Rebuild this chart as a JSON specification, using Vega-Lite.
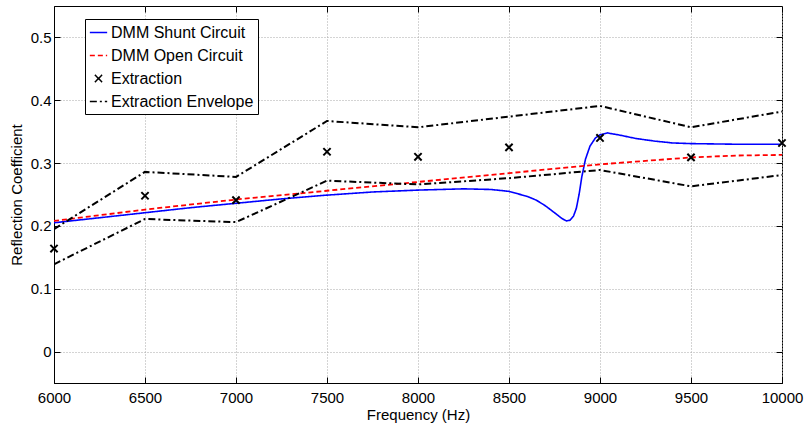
{
  "$schema": "https://vega.github.io/schema/vega-lite/v6.json",
  "width": 728,
  "height": 377,
  "autosize": "none",
  "padding": {"left": 54, "top": 6, "right": 24, "bottom": 48},
  "config": {
    "font": "Liberation Sans",
    "view": {"stroke": "black", "strokeWidth": 1},
    "axis": {
      "domainColor": "black",
      "tickColor": "black",
      "labelColor": "black",
      "titleColor": "black",
      "labelFontSize": 15,
      "titleFontSize": 15,
      "titleFontWeight": "normal",
      "gridColor": "#a8a8a8",
      "gridDash": [1, 2],
      "gridWidth": 1,
      "tickSize": -6,
      "tickWidth": 1
    },
    "legend": {
      "labelFontSize": 16,
      "labelColor": "black"
    }
  },
  "data": {
    "values": [
      {"series": "DMM Shunt Circuit", "grp": "s", "f": 6000, "r": 0.205},
      {"series": "DMM Shunt Circuit", "grp": "s", "f": 6250, "r": 0.213},
      {"series": "DMM Shunt Circuit", "grp": "s", "f": 6500, "r": 0.221},
      {"series": "DMM Shunt Circuit", "grp": "s", "f": 6750, "r": 0.229},
      {"series": "DMM Shunt Circuit", "grp": "s", "f": 7000, "r": 0.236},
      {"series": "DMM Shunt Circuit", "grp": "s", "f": 7250, "r": 0.243},
      {"series": "DMM Shunt Circuit", "grp": "s", "f": 7500, "r": 0.249},
      {"series": "DMM Shunt Circuit", "grp": "s", "f": 7750, "r": 0.254},
      {"series": "DMM Shunt Circuit", "grp": "s", "f": 8000, "r": 0.257},
      {"series": "DMM Shunt Circuit", "grp": "s", "f": 8250, "r": 0.259},
      {"series": "DMM Shunt Circuit", "grp": "s", "f": 8400, "r": 0.258},
      {"series": "DMM Shunt Circuit", "grp": "s", "f": 8500, "r": 0.255},
      {"series": "DMM Shunt Circuit", "grp": "s", "f": 8600, "r": 0.247},
      {"series": "DMM Shunt Circuit", "grp": "s", "f": 8650, "r": 0.241},
      {"series": "DMM Shunt Circuit", "grp": "s", "f": 8700, "r": 0.232},
      {"series": "DMM Shunt Circuit", "grp": "s", "f": 8750, "r": 0.221},
      {"series": "DMM Shunt Circuit", "grp": "s", "f": 8790, "r": 0.212},
      {"series": "DMM Shunt Circuit", "grp": "s", "f": 8815, "r": 0.208},
      {"series": "DMM Shunt Circuit", "grp": "s", "f": 8835, "r": 0.209},
      {"series": "DMM Shunt Circuit", "grp": "s", "f": 8855, "r": 0.216},
      {"series": "DMM Shunt Circuit", "grp": "s", "f": 8870, "r": 0.228},
      {"series": "DMM Shunt Circuit", "grp": "s", "f": 8885, "r": 0.25},
      {"series": "DMM Shunt Circuit", "grp": "s", "f": 8900, "r": 0.278},
      {"series": "DMM Shunt Circuit", "grp": "s", "f": 8920, "r": 0.306},
      {"series": "DMM Shunt Circuit", "grp": "s", "f": 8945, "r": 0.327},
      {"series": "DMM Shunt Circuit", "grp": "s", "f": 8975, "r": 0.34},
      {"series": "DMM Shunt Circuit", "grp": "s", "f": 9000, "r": 0.345},
      {"series": "DMM Shunt Circuit", "grp": "s", "f": 9040, "r": 0.348},
      {"series": "DMM Shunt Circuit", "grp": "s", "f": 9100, "r": 0.345},
      {"series": "DMM Shunt Circuit", "grp": "s", "f": 9200, "r": 0.339},
      {"series": "DMM Shunt Circuit", "grp": "s", "f": 9300, "r": 0.335},
      {"series": "DMM Shunt Circuit", "grp": "s", "f": 9400, "r": 0.332},
      {"series": "DMM Shunt Circuit", "grp": "s", "f": 9500, "r": 0.331},
      {"series": "DMM Shunt Circuit", "grp": "s", "f": 9750, "r": 0.33},
      {"series": "DMM Shunt Circuit", "grp": "s", "f": 10000, "r": 0.33},
      {"series": "DMM Open Circuit", "grp": "o", "f": 6000, "r": 0.208},
      {"series": "DMM Open Circuit", "grp": "o", "f": 6500, "r": 0.226},
      {"series": "DMM Open Circuit", "grp": "o", "f": 7000, "r": 0.242},
      {"series": "DMM Open Circuit", "grp": "o", "f": 7500, "r": 0.256},
      {"series": "DMM Open Circuit", "grp": "o", "f": 8000, "r": 0.27},
      {"series": "DMM Open Circuit", "grp": "o", "f": 8500, "r": 0.284},
      {"series": "DMM Open Circuit", "grp": "o", "f": 9000, "r": 0.298},
      {"series": "DMM Open Circuit", "grp": "o", "f": 9500, "r": 0.309},
      {"series": "DMM Open Circuit", "grp": "o", "f": 9750, "r": 0.312},
      {"series": "DMM Open Circuit", "grp": "o", "f": 10000, "r": 0.313},
      {"series": "Extraction", "grp": "x", "f": 6000, "r": 0.164},
      {"series": "Extraction", "grp": "x", "f": 6500, "r": 0.248},
      {"series": "Extraction", "grp": "x", "f": 7000, "r": 0.241},
      {"series": "Extraction", "grp": "x", "f": 7500, "r": 0.318},
      {"series": "Extraction", "grp": "x", "f": 8000, "r": 0.31},
      {"series": "Extraction", "grp": "x", "f": 8500, "r": 0.325},
      {"series": "Extraction", "grp": "x", "f": 9000, "r": 0.34},
      {"series": "Extraction", "grp": "x", "f": 9500, "r": 0.309},
      {"series": "Extraction", "grp": "x", "f": 10000, "r": 0.332},
      {"series": "Extraction Envelope", "grp": "u", "f": 6000, "r": 0.195},
      {"series": "Extraction Envelope", "grp": "u", "f": 6500, "r": 0.286},
      {"series": "Extraction Envelope", "grp": "u", "f": 7000, "r": 0.278},
      {"series": "Extraction Envelope", "grp": "u", "f": 7500, "r": 0.367},
      {"series": "Extraction Envelope", "grp": "u", "f": 8000, "r": 0.357},
      {"series": "Extraction Envelope", "grp": "u", "f": 8500, "r": 0.374},
      {"series": "Extraction Envelope", "grp": "u", "f": 9000, "r": 0.391},
      {"series": "Extraction Envelope", "grp": "u", "f": 9500, "r": 0.357},
      {"series": "Extraction Envelope", "grp": "u", "f": 10000, "r": 0.382},
      {"series": "Extraction Envelope", "grp": "l", "f": 6000, "r": 0.139},
      {"series": "Extraction Envelope", "grp": "l", "f": 6500, "r": 0.211},
      {"series": "Extraction Envelope", "grp": "l", "f": 7000, "r": 0.206},
      {"series": "Extraction Envelope", "grp": "l", "f": 7500, "r": 0.272},
      {"series": "Extraction Envelope", "grp": "l", "f": 8000, "r": 0.266},
      {"series": "Extraction Envelope", "grp": "l", "f": 8500, "r": 0.276},
      {"series": "Extraction Envelope", "grp": "l", "f": 9000, "r": 0.289},
      {"series": "Extraction Envelope", "grp": "l", "f": 9500, "r": 0.263},
      {"series": "Extraction Envelope", "grp": "l", "f": 10000, "r": 0.281}
    ]
  },
  "resolve": {"axis": {"x": "independent", "y": "independent"}},
  "layer": [
    {
      "transform": [{"filter": "datum.series !== 'Extraction'"}],
      "mark": {"type": "line", "clip": true},
      "encoding": {
        "x": {
          "field": "f", "type": "quantitative",
          "scale": {"domain": [6000, 10000], "nice": false, "zero": false},
          "axis": {"title": "Frequency (Hz)", "values": [6000, 6500, 7000, 7500, 8000, 8500, 9000, 9500, 10000], "format": "d", "labelPadding": 13, "titlePadding": 2, "labelFlush": false}
        },
        "y": {
          "field": "r", "type": "quantitative",
          "scale": {"domain": [-0.05, 0.55], "nice": false, "zero": false},
          "axis": {"title": "Reflection Coefficient", "values": [0, 0.1, 0.2, 0.3, 0.4, 0.5], "format": "~g", "labelPadding": 9, "titlePadding": 6}
        },
        "detail": {"field": "grp"},
        "color": {
          "field": "series", "type": "nominal",
          "scale": {"domain": ["DMM Shunt Circuit", "DMM Open Circuit", "Extraction", "Extraction Envelope"], "range": ["#0000ff", "#ff0000", "#000000", "#000000"]},
          "legend": {
            "title": null, "orient": "none", "legendX": 31, "legendY": 13,
            "fillColor": "white", "strokeColor": "black", "padding": 4,
            "symbolSize": 300, "symbolStrokeWidth": 1.5, "rowPadding": 5, "labelOffset": 3
          }
        },
        "strokeDash": {
          "field": "series", "type": "nominal",
          "scale": {"domain": ["DMM Shunt Circuit", "DMM Open Circuit", "Extraction", "Extraction Envelope"], "range": [[1, 0], [5, 3], [1, 0], [7, 3, 2, 3]]},
          "legend": {"title": null}
        },
        "strokeWidth": {
          "field": "series", "type": "nominal",
          "scale": {"domain": ["DMM Shunt Circuit", "DMM Open Circuit", "Extraction Envelope"], "range": [1.6, 2, 1.4]},
          "legend": null
        }
      }
    },
    {
      "transform": [{"filter": "datum.series === 'Extraction'"}],
      "mark": {"type": "point", "filled": false, "size": 300, "strokeWidth": 2, "opacity": 1},
      "encoding": {
        "x": {
          "field": "f", "type": "quantitative",
          "axis": {"orient": "top", "title": null, "labels": false, "grid": false, "domain": false, "values": [6000, 6500, 7000, 7500, 8000, 8500, 9000, 9500, 10000]}
        },
        "y": {
          "field": "r", "type": "quantitative",
          "axis": {"orient": "right", "title": null, "labels": false, "grid": false, "domain": false, "values": [0, 0.1, 0.2, 0.3, 0.4, 0.5]}
        },
        "color": {"field": "series", "type": "nominal"},
        "shape": {
          "field": "series", "type": "nominal",
          "scale": {"domain": ["DMM Shunt Circuit", "DMM Open Circuit", "Extraction", "Extraction Envelope"], "range": ["stroke", "stroke", "M-0.42,-0.42L0.42,0.42M-0.42,0.42L0.42,-0.42", "stroke"]},
          "legend": {"title": null}
        }
      }
    }
  ]
}
